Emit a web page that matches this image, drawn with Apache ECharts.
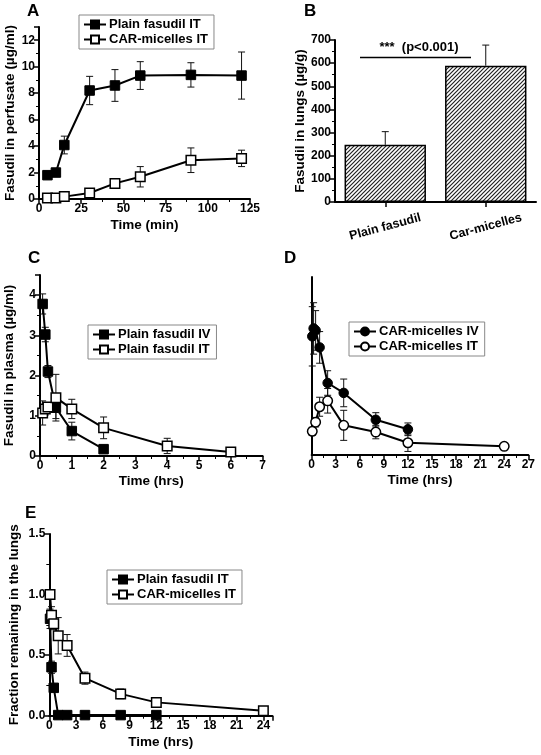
<!DOCTYPE html>
<html>
<head>
<meta charset="utf-8">
<script src="https://cdn.jsdelivr.net/npm/echarts@6/dist/echarts.min.js"></script>
<style>
html,body{margin:0;padding:0;background:#fff;}
#c{width:541px;height:755px;}
</style>
</head>
<body>
<div id="c"></div>
<script>
// ---------- DATA ----------
// Panel A: fasudil in perfusate (µg/ml) vs time (min)
const timeA = [5, 10, 15, 30, 45, 60, 90, 120];
const plainA = [1.8, 2.0, 4.08, 8.2, 8.58, 9.33, 9.38, 9.33];
const plainAErr = [0.05, 0.05, 0.67, 1.07, 1.2, 1.05, 0.92, 1.78];
const carA = [0.07, 0.07, 0.18, 0.45, 1.18, 1.68, 2.93, 3.07];
const carAErr = [0.03, 0.03, 0.08, 0.12, 0.1, 0.77, 0.93, 0.62];

// Panel B: fasudil in lungs (µg/g)
const catB = ['Plain fasudil', 'Car-micelles'];
const valB = [247, 589];
const errB = [57, 89];

// Panel C: fasudil in plasma (µg/ml) vs time (hrs)
const timeCIV = [0.083, 0.167, 0.25, 0.5, 1, 2];
const plainIV = [3.78, 3.02, 2.1, 1.2, 0.62, 0.17];
const plainIVErr = [0.25, 0.18, 0.15, 0.27, 0.22, 0.03];
const timeCIT = [0.083, 0.167, 0.25, 0.5, 1, 2, 4, 6];
const plainITC = [1.07, 1.17, 1.22, 1.45, 1.17, 0.7, 0.25, 0.1];
const plainITCErr = [0.3, 0.15, 0.1, 0.58, 0.24, 0.27, 0.19, 0.05];

// Panel D
const timeDIV = [0.083, 0.25, 0.5, 1, 2, 4, 8, 12];
const carIV = [3.0, 3.2, 3.15, 2.72, 1.82, 1.57, 0.89, 0.65];
const carIVErr = [0.75, 0.65, 0.5, 0.4, 0.31, 0.35, 0.18, 0.16];
const timeDIT = [0.083, 0.5, 1, 2, 4, 8, 12, 24];
const carITD = [0.6, 0.83, 1.22, 1.37, 0.75, 0.58, 0.31, 0.22];
const carITDErr = [0.1, 0.12, 0.24, 0.31, 0.38, 0.17, 0.22, 0.05];

// Panel E: fraction remaining in the lungs
const timeEPlain = [0.083, 0.25, 0.5, 1, 2, 4, 8, 12];
const plainE = [0.8, 0.4, 0.23, 0.005, 0.005, 0.005, 0.005, 0.005];
const plainEErr = [0.08, 0.05, 0.03, 0, 0, 0, 0, 0];
const timeECar = [0.083, 0.25, 0.5, 1, 2, 4, 8, 12, 24];
const carE = [1.0, 0.83, 0.76, 0.66, 0.58, 0.31, 0.18, 0.11, 0.04];
const carEErr = [0, 0.07, 0.05, 0.15, 0.09, 0.05, 0.04, 0.04, 0.02];

// ---------- HELPERS ----------
const FF = '"Liberation Sans", Arial, sans-serif';
const zip = (xs, ys) => xs.map((x, i) => [x, ys[i]]);

function errSeries(ai, xs, ys, es, upOnly) {
  return {
    type: 'custom', xAxisIndex: ai, yAxisIndex: ai, z: 1, silent: true, animation: false,
    data: xs.map((x, i) => [x, upOnly ? ys[i] : ys[i] - es[i], ys[i] + es[i]]),
    encode: { x: 0, y: [1, 2] },
    renderItem: function (params, api) {
      const x = api.value(0);
      const lo = api.coord([x, api.value(1)]);
      const hi = api.coord([x, api.value(2)]);
      const w = 3.5;
      const st = { stroke: '#111', lineWidth: 1 };
      const ch = [
        { type: 'line', shape: { x1: hi[0], y1: hi[1], x2: lo[0], y2: lo[1] }, style: st },
        { type: 'line', shape: { x1: hi[0] - w, y1: hi[1], x2: hi[0] + w, y2: hi[1] }, style: st }
      ];
      if (!upOnly) ch.push({ type: 'line', shape: { x1: lo[0] - w, y1: lo[1], x2: lo[0] + w, y2: lo[1] }, style: st });
      return { type: 'group', children: ch };
    }
  };
}

function lineSeries(name, ai, xs, ys, symbol, filled) {
  return {
    name: name, type: 'line', xAxisIndex: ai, yAxisIndex: ai, z: 3, animation: false,
    data: zip(xs, ys), symbol: symbol, symbolSize: 9.5, showSymbol: true,
    lineStyle: { color: '#000', width: 2 },
    itemStyle: filled ? { color: '#000', borderColor: '#000', borderWidth: 1 }
                      : { color: '#fff', borderColor: '#000', borderWidth: 1.5 }
  };
}

const axisLineStyle = { show: true, lineStyle: { color: '#000', width: 2 } };
const tickStyle = { show: true, length: 5, lineStyle: { color: '#000', width: 1.5 } };
const minorTick = { show: true, splitNumber: 2, length: 3, lineStyle: { color: '#000', width: 1 } };
const labelStyle = { color: '#000', fontSize: 12, fontWeight: 'bold', fontFamily: FF };
const nameStyle = { color: '#000', fontSize: 13.5, fontWeight: 'bold', fontFamily: FF };

function valAxis(gi, min, max, interval, extra) {
  return Object.assign({
    type: 'value', gridIndex: gi, min: min, max: max, interval: interval,
    axisLine: axisLineStyle, axisTick: tickStyle, minorTick: minorTick,
    splitLine: { show: false },
    axisLabel: Object.assign({ margin: 4, showMaxLabel: false }, labelStyle),
    nameLocation: 'middle', nameTextStyle: nameStyle
  }, extra || {});
}

// hatch pattern for bars
const pc = document.createElement('canvas');
pc.width = 4; pc.height = 4;
const g = pc.getContext('2d');
g.fillStyle = '#fff'; g.fillRect(0, 0, 4, 4);
g.strokeStyle = '#222'; g.lineWidth = 1.2;
g.beginPath();
g.moveTo(0, 4); g.lineTo(4, 0);
g.moveTo(-1, 1); g.lineTo(1, -1);
g.moveTo(3, 5); g.lineTo(5, 3);
g.stroke();

const legendBase = {
  orient: 'vertical', selectedMode: false, itemGap: 2, itemWidth: 22, itemHeight: 10,
  padding: [3, 6, 3, 4], borderColor: '#888', borderWidth: 1,
  textStyle: { color: '#000', fontSize: 13, fontWeight: 'bold', fontFamily: FF, padding: [0, 0, 0, -2] }
};

const chart = echarts.init(document.getElementById('c'), null, { renderer: 'canvas' });

const option = {
  backgroundColor: '#fff',
  animation: false,
  grid: [
    { left: 39, top: 27, width: 211, height: 172 },      // A
    { left: 335, top: 40, width: 201, height: 162 },     // B
    { left: 40, top: 275, width: 222.6, height: 181 },   // C
    { left: 311.6, top: 277, width: 216.7, height: 178 },// D
    { left: 49.3, top: 534, width: 223, height: 181.7 }  // E
  ],
  xAxis: [
    valAxis(0, 0, 125, 25, { name: 'Time (min)', nameGap: 19, axisLabel: Object.assign({ margin: 4 }, labelStyle) }),
    { type: 'category', gridIndex: 1, data: catB, boundaryGap: true,
      axisLine: axisLineStyle, axisTick: { show: true, alignWithLabel: true, length: 5, lineStyle: { color: '#000', width: 1.5 } },
      axisLabel: { rotate: 15, align: 'center', verticalAlign: 'middle', margin: 25, fontSize: 12.5, color: '#000', fontWeight: 'bold', fontFamily: FF } },
    valAxis(2, 0, 7, 1, { name: 'Time (hrs)', nameGap: 18, axisLabel: Object.assign({ margin: 4 }, labelStyle) }),
    valAxis(3, 0, 27, 3, { name: 'Time (hrs)', nameGap: 18, axisLabel: Object.assign({ margin: 4 }, labelStyle) }),
    valAxis(4, 0, 25, 3, { name: 'Time (hrs)', nameGap: 20 })
  ],
  yAxis: [
    valAxis(0, 0, 13, 2, { name: 'Fasudil in perfusate (µg/ml)', nameGap: 22 }),
    valAxis(1, 0, 700, 100, { name: 'Fasudil in lungs (µg/g)', nameGap: 27, axisLabel: Object.assign({ margin: 4 }, labelStyle) }),
    valAxis(2, 0, 4.5, 1, { name: 'Fasudil in plasma (µg/ml)', nameGap: 24 }),
    valAxis(3, 0, 4.5, 1, { axisTick: { show: false }, minorTick: { show: false }, axisLabel: { show: false } }),
    valAxis(4, 0, 1.5, 0.5, { name: 'Fraction remaining in the lungs', nameGap: 28,
      axisLabel: Object.assign({ margin: 4, formatter: v => v.toFixed(1) }, labelStyle) })
  ],
  legend: [
    Object.assign({}, legendBase, { left: 79, top: 15, data: ['Plain fasudil IT', 'CAR-micelles IT'] }),
    Object.assign({}, legendBase, { left: 88, top: 325, data: ['Plain fasudil IV', 'Plain fasudil IT (plasma)'],
      formatter: n => n.replace(' (plasma)', '') }),
    Object.assign({}, legendBase, { left: 349, top: 322, data: ['CAR-micelles IV', 'CAR-micelles IT (plasma)'],
      formatter: n => n.replace(' (plasma)', '') }),
    Object.assign({}, legendBase, { left: 107, top: 570, data: ['Plain fasudil IT', 'CAR-micelles IT'] })
  ],
  series: [
    // A
    errSeries(0, timeA, plainA, plainAErr),
    errSeries(0, timeA, carA, carAErr),
    lineSeries('Plain fasudil IT', 0, timeA, plainA, 'rect', true),
    lineSeries('CAR-micelles IT', 0, timeA, carA, 'rect', false),
    // B
    { type: 'bar', xAxisIndex: 1, yAxisIndex: 1, data: valB, barWidth: '81%', z: 2, animation: false,
      itemStyle: { color: { image: pc, repeat: 'repeat' }, borderColor: '#000', borderWidth: 1.5 } },
    errSeries(1, [0, 1], valB, errB, true),
    // C
    errSeries(2, timeCIV, plainIV, plainIVErr),
    errSeries(2, timeCIT, plainITC, plainITCErr),
    lineSeries('Plain fasudil IV', 2, timeCIV, plainIV, 'rect', true),
    lineSeries('Plain fasudil IT (plasma)', 2, timeCIT, plainITC, 'rect', false),
    // D
    errSeries(3, timeDIV, carIV, carIVErr),
    errSeries(3, timeDIT, carITD, carITDErr),
    lineSeries('CAR-micelles IV', 3, timeDIV, carIV, 'circle', true),
    lineSeries('CAR-micelles IT (plasma)', 3, timeDIT, carITD, 'circle', false),
    // E
    errSeries(4, timeEPlain, plainE, plainEErr),
    errSeries(4, timeECar, carE, carEErr),
    lineSeries('Plain fasudil IT', 4, timeEPlain, plainE, 'rect', true),
    lineSeries('CAR-micelles IT', 4, timeECar, carE, 'rect', false)
  ],
  graphic: [
    { type: 'text', left: 27, top: 3, style: { text: 'A', fontSize: 17, fontWeight: 'bold', fontFamily: FF, fill: '#000' } },
    { type: 'text', left: 304, top: 3, style: { text: 'B', fontSize: 17, fontWeight: 'bold', fontFamily: FF, fill: '#000' } },
    { type: 'text', left: 28, top: 250, style: { text: 'C', fontSize: 17, fontWeight: 'bold', fontFamily: FF, fill: '#000' } },
    { type: 'text', left: 284, top: 250, style: { text: 'D', fontSize: 17, fontWeight: 'bold', fontFamily: FF, fill: '#000' } },
    { type: 'text', left: 25, top: 505, style: { text: 'E', fontSize: 17, fontWeight: 'bold', fontFamily: FF, fill: '#000' } },
    { type: 'line', shape: { x1: 360, y1: 57.5, x2: 471, y2: 57.5 }, style: { stroke: '#000', lineWidth: 1.5 } },
    { type: 'text', x: 419, y: 47, style: { text: '***  (p<0.001)', fontSize: 13, fontWeight: 'bold', fontFamily: FF, fill: '#000', align: 'center', verticalAlign: 'middle' } }
  ]
};
chart.setOption(option);
</script>
</body>
</html>
